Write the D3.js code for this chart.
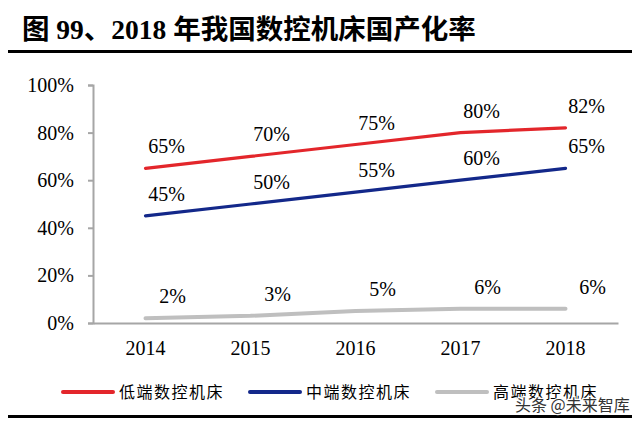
<!DOCTYPE html>
<html><head><meta charset="utf-8">
<script src="https://cdn.jsdelivr.net/npm/d3@7/dist/d3.min.js"></script>
<style>
html,body{margin:0;padding:0;background:#fff;}
svg{display:block;}
.serif{font-family:"Liberation Serif","Times New Roman","DejaVu Serif","Noto Sans CJK SC",serif;}
.cjk{font-family:"Noto Sans CJK SC",sans-serif;}
</style></head>
<body>
<script>
const title = "图 99、2018 年我国数控机床国产化率";
const years = ["2014","2015","2016","2017","2018"];
const lowEnd = [65,70,75,80,82];
const midEnd = [45,50,55,60,65];
const highEnd = [2,3,5,6,6];
const seriesNames = ["低端数控机床","中端数控机床","高端数控机床"];
const yTicks = [0,20,40,60,80,100];
const watermark = "头条 @未来智库";

const series = [
  {name: seriesNames[0], values: lowEnd, color: "#e3262b", width: 3.2, dx: 21},
  {name: seriesNames[1], values: midEnd, color: "#13288a", width: 3.2, dx: 21},
  {name: seriesNames[2], values: highEnd, color: "#bfbfbf", width: 4, dx: 27}
];

const W = 640, H = 421;
const svg = d3.select("body").append("svg").attr("width", W).attr("height", H);

// title
svg.append("text").attr("class", "serif").attr("x", 22).attr("y", 39)
  .style("font-weight", "bold").style("font-size", "27.5px")
  .attr("fill", "#000").text(title);
svg.append("rect").attr("x", 8).attr("y", 50).attr("width", 624).attr("height", 3).attr("fill", "#000");
svg.append("rect").attr("x", 8).attr("y", 415).attr("width", 624).attr("height", 3).attr("fill", "#000");

const x = d3.scaleBand().domain(years).range([93, 618]);
const y = d3.scaleLinear().domain([0, 100]).range([323, 85]);

const axisColor = "#a6a6a6";
// y axis
const yAxis = svg.append("g").attr("transform", "translate(93,0)")
  .call(d3.axisLeft(y).tickValues(yTicks).tickSize(5).tickPadding(14).tickFormat(d => d + "%"));
yAxis.attr("font-family", null).attr("font-size", null);
yAxis.select(".domain").attr("stroke", axisColor).attr("stroke-width", 2);
yAxis.selectAll(".tick line").attr("stroke", axisColor).attr("stroke-width", 2);
yAxis.selectAll(".tick text").attr("class", "serif").style("font-size", "20px").attr("fill", "#000");

// x axis
const xAxis = svg.append("g").attr("transform", "translate(0,323)")
  .call(d3.axisBottom(x).tickSize(0).tickPadding(18));
xAxis.attr("font-family", null).attr("font-size", null);
xAxis.select(".domain").attr("stroke", axisColor).attr("stroke-width", 2);
xAxis.selectAll(".tick text").attr("class", "serif").style("font-size", "20px").attr("fill", "#000");

const cx = d => x(d) + x.bandwidth() / 2;
const line = d3.line().x((d, i) => cx(years[i])).y(d => y(d));

series.forEach(s => {
  svg.append("path").datum(s.values).attr("d", line)
    .attr("fill", "none").attr("stroke", s.color).attr("stroke-width", s.width)
    .attr("stroke-linecap", "round").attr("stroke-linejoin", "round");
  svg.append("g").selectAll("text").data(s.values).join("text")
    .attr("class", "serif")
    .attr("x", (d, i) => cx(years[i]) + s.dx)
    .attr("y", d => y(d) - 15)
    .attr("text-anchor", "middle")
    .style("font-size", "20px").attr("fill", "#000")
    .text(d => d + "%");
});

// legend
const legendX = [63, 250, 437];
series.forEach((s, i) => {
  const g = svg.append("g").attr("transform", `translate(${legendX[i]},392)`);
  g.append("line").attr("x1", 0).attr("x2", 50).attr("y1", 0).attr("y2", 0)
    .attr("stroke", s.color).attr("stroke-width", 4).attr("stroke-linecap", "round");
  g.append("text").attr("class", "cjk").attr("x", 56).attr("y", 6)
    .style("font-size", "16px")
    .attr("letter-spacing", 1.5).attr("fill", "#000").text(s.name);
});

// watermark
svg.append("text").attr("class", "cjk").attr("x", 515).attr("y", 411)
  .style("font-size", "16px")
  .attr("fill", "#333").attr("stroke", "#fff").attr("stroke-width", 2.5)
  .attr("paint-order", "stroke").text(watermark);
</script>
</body></html>
